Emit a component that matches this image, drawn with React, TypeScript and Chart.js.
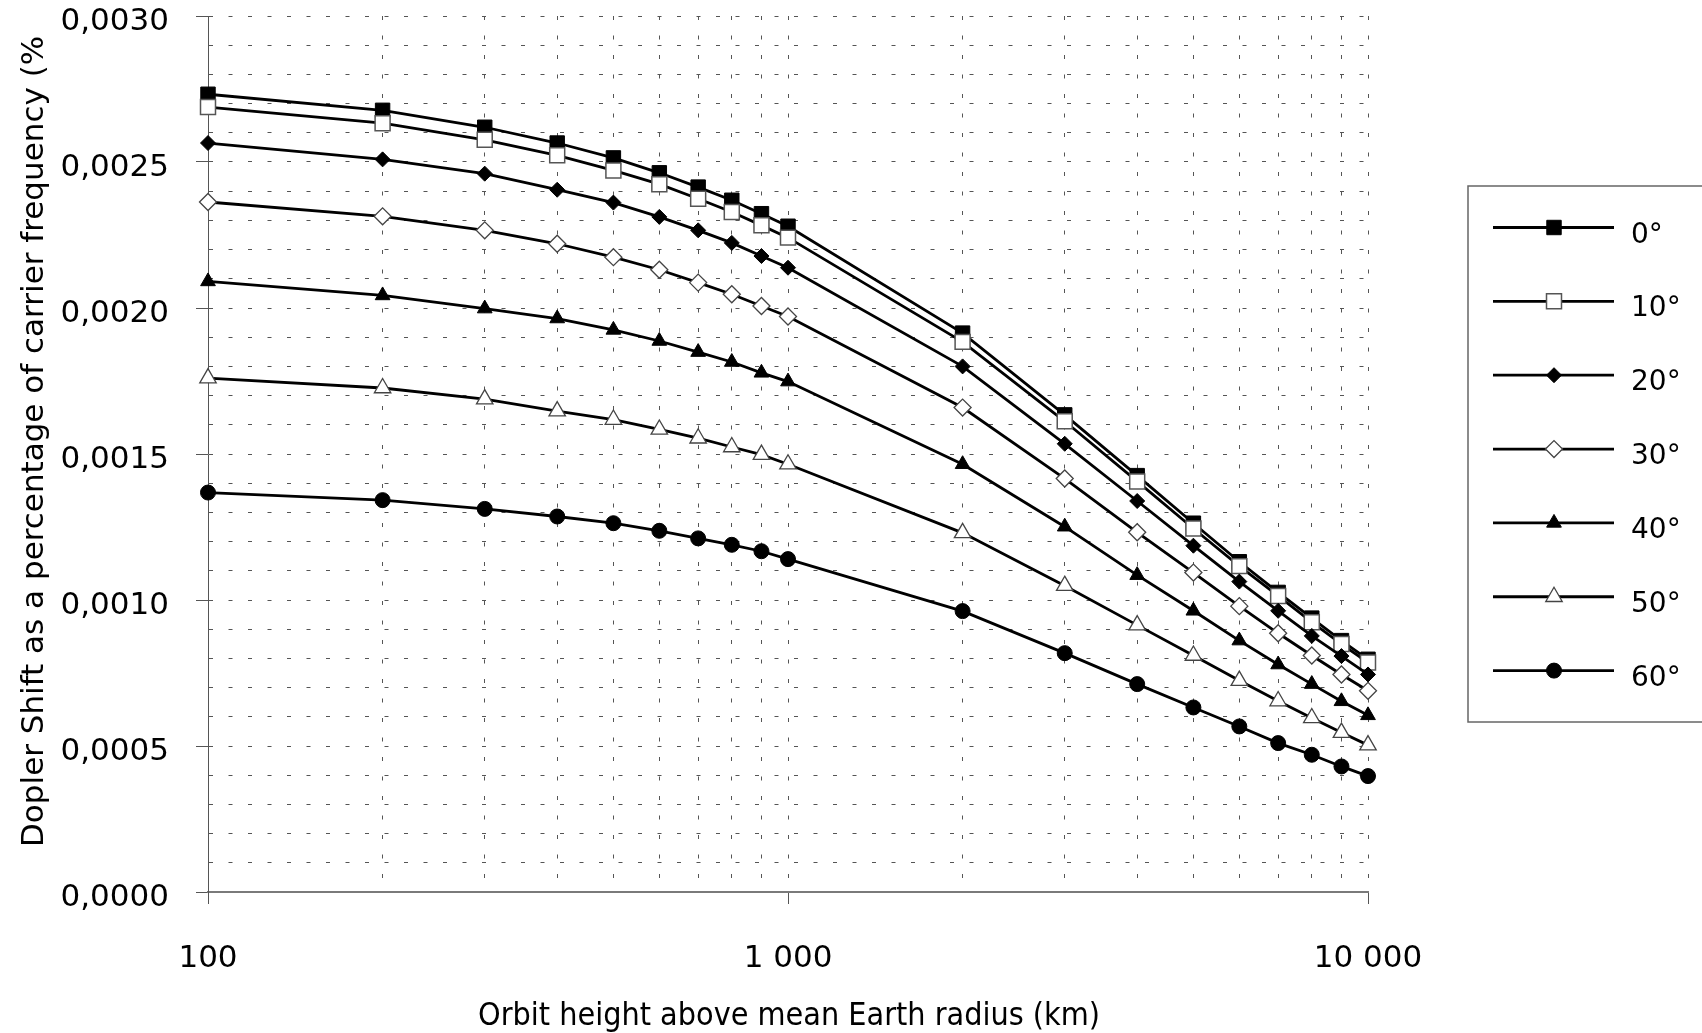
import React, { useEffect, useRef } from 'react';
import { Chart, registerables } from 'chart.js';

Chart.register(...registerables);

// ---------- data ----------
const HEIGHTS_KM = [100, 200, 300, 400, 500, 600, 700, 800, 900, 1000, 2000, 3000, 4000, 5000, 6000, 7000, 8000, 9000, 10000];

const SERIES_LABELS = ['0°', '10°', '20°', '30°', '40°', '50°', '60°'];

const SHIFT_0 = [0.002732, 0.002677, 0.002619, 0.002565, 0.002514, 0.002463, 0.002414, 0.002369, 0.002323, 0.002280, 0.001914, 0.001634, 0.001426, 0.001263, 0.001131, 0.001026, 0.000938, 0.000861, 0.000797];
const SHIFT_10 = [0.002688, 0.002633, 0.002576, 0.002523, 0.002471, 0.002424, 0.002374, 0.002329, 0.002283, 0.002241, 0.001884, 0.001612, 0.001406, 0.001245, 0.001116, 0.001014, 0.000924, 0.000849, 0.000786];
const SHIFT_20 = [0.002565, 0.002509, 0.002460, 0.002405, 0.002361, 0.002312, 0.002266, 0.002223, 0.002178, 0.002138, 0.001800, 0.001535, 0.001339, 0.001186, 0.001063, 0.000963, 0.000877, 0.000808, 0.000745];
const SHIFT_30 = [0.002363, 0.002314, 0.002266, 0.002220, 0.002174, 0.002131, 0.002087, 0.002047, 0.002007, 0.001971, 0.001659, 0.001416, 0.001232, 0.001094, 0.000979, 0.000886, 0.000810, 0.000745, 0.000689];
const SHIFT_40 = [0.002091, 0.002043, 0.001998, 0.001964, 0.001925, 0.001887, 0.001849, 0.001815, 0.001778, 0.001748, 0.001465, 0.001251, 0.001085, 0.000963, 0.000861, 0.000779, 0.000712, 0.000653, 0.000605];
const SHIFT_50 = [0.001760, 0.001726, 0.001688, 0.001647, 0.001618, 0.001584, 0.001554, 0.001524, 0.001498, 0.001465, 0.001230, 0.001049, 0.000914, 0.000810, 0.000724, 0.000654, 0.000596, 0.000546, 0.000503];
const SHIFT_60 = [0.001368, 0.001342, 0.001312, 0.001286, 0.001263, 0.001237, 0.001211, 0.001189, 0.001167, 0.001140, 0.000962, 0.000818, 0.000712, 0.000632, 0.000567, 0.000510, 0.000470, 0.000430, 0.000397];

const SERIES = [SHIFT_0, SHIFT_10, SHIFT_20, SHIFT_30, SHIFT_40, SHIFT_50, SHIFT_60];

const X_GRID_KM = [100, 200, 300, 400, 500, 600, 700, 800, 900, 1000, 2000, 3000, 4000, 5000, 6000, 7000, 8000, 9000, 10000];
const X_MAJOR_TICKS = [100, 1000, 10000];
const X_MAJOR_LABELS = ['100', '1 000', '10 000'];

const Y_MIN = 0;
const Y_MAX = 0.003;
const Y_GRID_COUNT = 31; // gridlines every 0.0001
const Y_TICK_LABELS = ['0,0000', '0,0005', '0,0010', '0,0015', '0,0020', '0,0025', '0,0030'];

const X_TITLE = 'Orbit height above mean Earth radius (km)';
const Y_TITLE = 'Dopler Shift as a percentage of carrier frequency (%';

// ---------- styles ----------
const MARKERS = [
  { style: 'rect', radius: 10.2, fill: '#000000', stroke: '#000000', strokeWidth: 1 },
  { style: 'rect', radius: 10.6, fill: '#ffffff', stroke: '#555555', strokeWidth: 1.5 },
  { style: 'rectRot', radius: 7.5, fill: '#000000', stroke: '#000000', strokeWidth: 1 },
  { style: 'rectRot', radius: 8.5, fill: '#ffffff', stroke: '#444444', strokeWidth: 1.3 },
  { style: 'triangle', radius: 8.5, fill: '#000000', stroke: '#000000', strokeWidth: 1 },
  { style: 'triangle', radius: 9.5, fill: '#ffffff', stroke: '#444444', strokeWidth: 1.3 },
  { style: 'circle', radius: 7.5, fill: '#000000', stroke: '#000000', strokeWidth: 1 },
];

const FONT = "'DejaVu Sans'";
const GRID_COLOR = '#555555';
const GRID_DASH = [4, 15.5];

function drawMarker(ctx: CanvasRenderingContext2D, m: any, x: number, y: number) {
  const r = m.radius;
  ctx.save();
  ctx.fillStyle = m.fill;
  ctx.strokeStyle = m.stroke;
  ctx.lineWidth = m.strokeWidth;
  ctx.setLineDash([]);
  ctx.beginPath();
  if (m.style === 'rect') {
    const s = Math.SQRT1_2 * r;
    ctx.rect(x - s, y - s, 2 * s, 2 * s);
  } else if (m.style === 'rectRot') {
    ctx.moveTo(x - r, y);
    ctx.lineTo(x, y - r);
    ctx.lineTo(x + r, y);
    ctx.lineTo(x, y + r);
    ctx.closePath();
  } else if (m.style === 'triangle') {
    ctx.moveTo(x, y - r);
    ctx.lineTo(x + 0.8660254 * r, y + 0.5 * r);
    ctx.lineTo(x - 0.8660254 * r, y + 0.5 * r);
    ctx.closePath();
  } else {
    ctx.arc(x, y, r, 0, Math.PI * 2);
  }
  ctx.fill();
  ctx.stroke();
  ctx.restore();
}

const overlayPlugin = {
  id: 'overlay',
  afterDraw(chart: any) {
    const ctx: CanvasRenderingContext2D = chart.ctx;
    // Y axis title
    ctx.save();
    ctx.fillStyle = '#000';
    ctx.font = `31px ${FONT}`;
    ctx.textAlign = 'left';
    ctx.textBaseline = 'alphabetic';
    ctx.translate(43, 847);
    ctx.rotate(-Math.PI / 2);
    ctx.fillText(Y_TITLE, 0, 0);
    ctx.restore();

    // X axis title
    ctx.save();
    ctx.fillStyle = '#000';
    ctx.font = `32px 'DejaVu Sans Condensed', ${FONT}`;
    ctx.textAlign = 'center';
    ctx.textBaseline = 'alphabetic';
    ctx.fillText(X_TITLE, 789, 1025);
    ctx.restore();

    // Legend
    ctx.save();
    ctx.strokeStyle = '#666';
    ctx.lineWidth = 1.5;
    ctx.strokeRect(1468, 186, 260, 536);
    const x0 = 1493, x1 = 1614, mx = 1554, tx = 1631, y0 = 227.5, dy = 73.85;
    SERIES_LABELS.forEach((lab, i) => {
      const y = y0 + i * dy;
      ctx.strokeStyle = '#000';
      ctx.lineWidth = 2.8;
      ctx.setLineDash([]);
      ctx.beginPath();
      ctx.moveTo(x0, y);
      ctx.lineTo(x1, y);
      ctx.stroke();
      drawMarker(ctx, MARKERS[i], mx, y);
      ctx.fillStyle = '#000';
      ctx.font = `28px ${FONT}`;
      ctx.textAlign = 'left';
      ctx.textBaseline = 'alphabetic';
      ctx.fillText(lab, tx, y + 15);
    });
    ctx.restore();
  },
};

export default function App() {
  const canvasRef = useRef<HTMLCanvasElement | null>(null);

  useEffect(() => {
    const canvas = canvasRef.current;
    if (!canvas) return;

    const datasets = SERIES.map((vals, i) => ({
      label: SERIES_LABELS[i],
      data: HEIGHTS_KM.map((h, j) => ({ x: h, y: vals[j] })),
      borderColor: '#000000',
      borderWidth: 2.8,
      pointStyle: MARKERS[i].style,
      pointRadius: MARKERS[i].radius,
      pointHoverRadius: MARKERS[i].radius,
      pointBackgroundColor: MARKERS[i].fill,
      pointBorderColor: MARKERS[i].stroke,
      pointBorderWidth: MARKERS[i].strokeWidth,
      tension: 0,
      fill: false,
      clip: false,
      order: SERIES.length - i,
    }));

    const chart = new Chart(canvas, {
      type: 'line',
      data: { datasets } as any,
      options: {
        animation: false,
        responsive: false,
        maintainAspectRatio: false,
        devicePixelRatio: 1,
        events: [],
        layout: { padding: { left: 0, top: 16, right: 334, bottom: 0 } },
        plugins: {
          legend: { display: false },
          tooltip: { enabled: false },
          title: { display: false },
        },
        scales: {
          x: {
            type: 'logarithmic',
            position: 'bottom',
            min: 100,
            max: 10000,
            afterBuildTicks: (scale: any) => {
              scale.ticks = X_GRID_KM.map((v) => ({ value: v, major: false }));
            },
            afterFit: (scale: any) => {
              scale.height = 141;
              scale.paddingLeft = 0;
              scale.paddingRight = 0;
            },
            ticks: {
              autoSkip: false,
              maxRotation: 0,
              minRotation: 0,
              padding: 36,
              color: '#000',
              font: { family: FONT, size: 31 },
              callback: (value: any) => {
                const k = X_MAJOR_TICKS.indexOf(Number(value));
                return k >= 0 ? X_MAJOR_LABELS[k] : '';
              },
            },
            grid: {
              color: GRID_COLOR,
              lineWidth: 1,
              drawTicks: true,
              tickLength: 12,
              tickWidth: 1,
              tickColor: (c: any) =>
                c && c.tick && X_MAJOR_TICKS.includes(c.tick.value) ? '#555' : 'rgba(0,0,0,0)',
            },
            border: { display: true, color: '#7a7a7a', width: 2, dash: GRID_DASH },
          },
          y: {
            type: 'linear',
            position: 'left',
            min: Y_MIN,
            max: Y_MAX,
            afterBuildTicks: (scale: any) => {
              scale.ticks = Array.from({ length: Y_GRID_COUNT }, (_, i) => ({ value: i / 10000 }));
            },
            afterFit: (scale: any) => {
              scale.width = 208;
              scale.paddingTop = 0;
              scale.paddingBottom = 0;
            },
            ticks: {
              autoSkip: false,
              padding: 27,
              labelOffset: 6,
              color: '#000',
              font: { family: FONT, size: 31 },
              callback: (_v: any, index: number) => (index % 5 === 0 ? Y_TICK_LABELS[index / 5] : ''),
            },
            grid: {
              color: GRID_COLOR,
              lineWidth: 1,
              drawTicks: true,
              tickLength: 12,
              tickWidth: 1,
              tickColor: (c: any) =>
                c && typeof c.index === 'number' && c.index % 5 === 0 ? '#555' : 'rgba(0,0,0,0)',
            },
            border: { display: true, color: '#555', width: 1, dash: GRID_DASH },
          },
        },
      } as any,
      plugins: [overlayPlugin],
    });

    return () => {
      chart.destroy();
    };
  }, []);

  return (
    <div
      style={{
        position: 'fixed',
        left: 0,
        top: 0,
        width: 1702,
        height: 1033,
        background: '#ffffff',
        overflow: 'hidden',
      }}
    >
      <canvas ref={canvasRef} width={1702} height={1033} style={{ width: 1702, height: 1033, display: 'block' }} />
    </div>
  );
}
